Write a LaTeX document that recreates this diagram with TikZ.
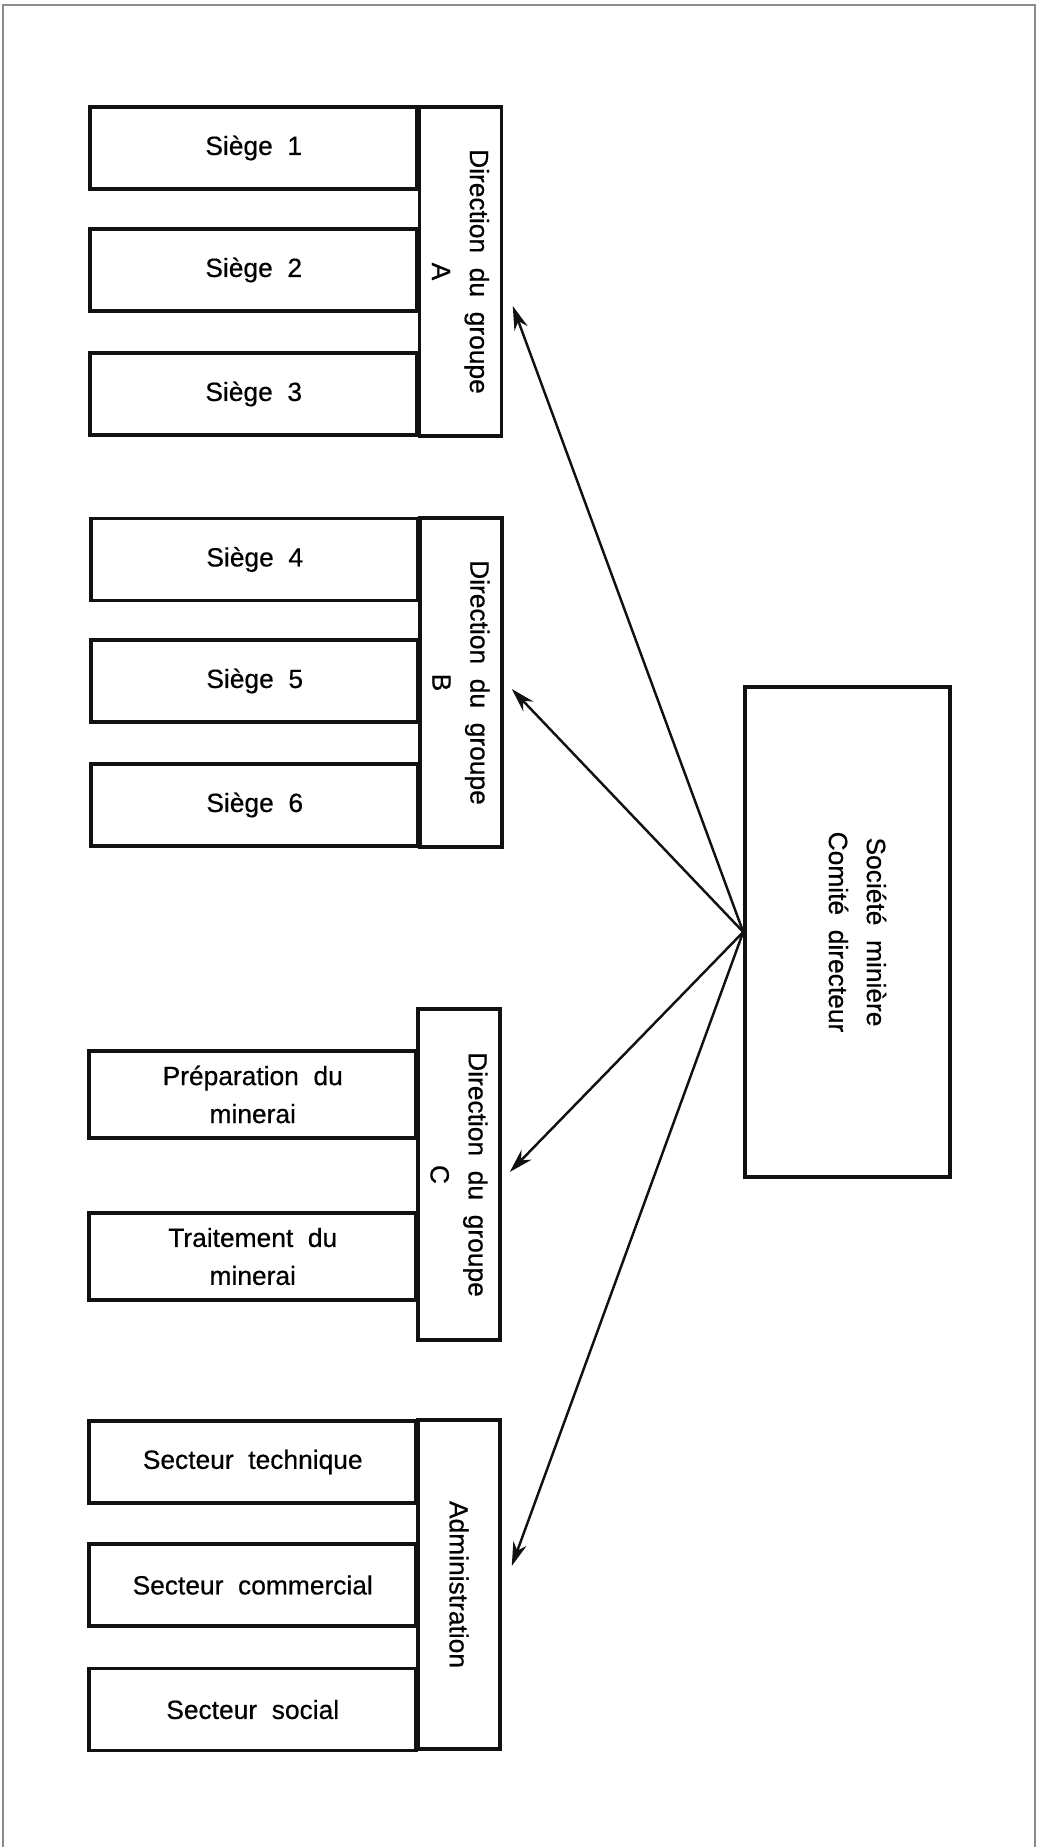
\documentclass[tikz,border=0pt]{standalone}
\usepackage{fontspec}
\setmainfont[WordSpace=2, FakeBold=0.5]{Liberation Sans}
\usepackage{tikz}
\usetikzlibrary{positioning,arrows.meta}
\definecolor{ink}{HTML}{111111}
\definecolor{scan}{HTML}{8C8C8C}

\begin{document}
\begin{tikzpicture}[
  x=0.1mm, y=-0.1mm,
  font=\fontsize{7.5}{10.8}\selectfont,
  >={Stealth[length=2.4mm,width=1.4mm]},
  unit/.style={draw=ink, line width=1pt, minimum width=32.7mm,
               minimum height=8.2mm, inner sep=0pt, align=center, anchor=east},
  dirbox/.style={draw=ink, line width=1pt, minimum width=8.2mm,
                 minimum height=32.9mm, inner sep=0pt},
  dirtxt/.style={rotate=-90, align=center, inner sep=0pt},
  link/.style={->, draw=ink, line width=0.7pt},
  frame/.style={draw=scan, line width=0.4pt}
]
\useasboundingbox (0,0) rectangle (1038,1847);
\draw[frame] (3,1847) -- (3,5) -- (1035,5) -- (1035,1847);

% ===== group A =====
\node[dirbox] (dirA) at (460.5,271.5) {};
\node[dirtxt] (dirAtxt) at (dirA) {Direction du groupe\\A};
\foreach \n/\y/\t in {s1/148/Siège 1, s2/270/Siège 2, s3/394/Siège 3}
  \node[unit] (\n) at (419,\y) {\t};

% ===== group B =====
\node[dirbox] (dirB) at (461,682.5) {};
\node[dirtxt] (dirBtxt) at (dirB) {Direction du groupe\\B};
\foreach \n/\y/\t in {s4/559.5/Siège 4, s5/681/Siège 5, s6/805/Siège 6}
  \node[unit] (\n) at (420,\y) {\t};

% ===== group C =====
\node[dirbox, minimum height=33.1mm] (dirC) at (459,1174.5) {};
\node[dirtxt] (dirCtxt) at (dirC) {Direction du groupe\\C};
\node[unit, minimum height=8.7mm] (prep) at (418,1094.5) {Préparation du\\minerai};
\node[unit, minimum height=8.7mm] (trait) at (418,1256.5) {Traitement du\\minerai};

% ===== administration =====
\node[dirbox] (admin) at (459,1584.5) {};
\node[dirtxt] (admintxt) at (admin) {Administration};
\foreach \n/\y/\t in {tech/1462/Secteur technique, comm/1585/Secteur commercial,
                      soci/1709.5/Secteur social}
  \node[unit] (\n) at (418,\y) {\t};

% ===== comite =====
\node[draw=ink, line width=1pt, minimum width=20.5mm, minimum height=49mm,
      inner sep=0pt] (soc) at (847.5,932) {};
\node[dirtxt] (soctxt) at ([xshift=1mm]soc.center) {Société minière\\Comité directeur};

\draw[link] (soc.west) -- ([shift={(0.95mm,-3.45mm)}]dirA.east);
\draw[link] (soc.west) -- ([shift={(0.8mm,-0.65mm)}]dirB.east);
\draw[link] (soc.west) -- ([shift={(0.8mm,0.25mm)}]dirC.east);
\draw[link] (soc.west) -- ([shift={(1.0mm,1.85mm)}]admin.east);
\end{tikzpicture}
\end{document}
